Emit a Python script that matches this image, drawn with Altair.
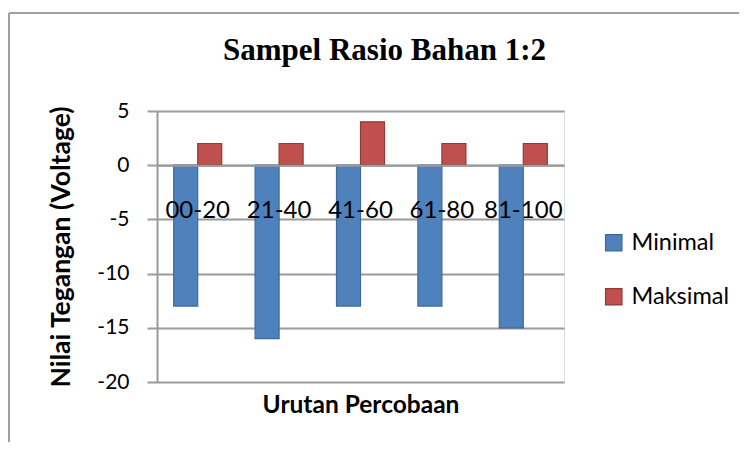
import altair as alt
import pandas as pd

categories = ["00-20", "21-40", "41-60", "61-80", "81-100"]
minimal = [-13, -16, -13, -13, -15]
maksimal = [2, 2, 4, 2, 2]
series_names = ["Minimal", "Maksimal"]
y_ticks = [-20, -15, -10, -5, 0, 5]

rows = []
for c, mn, mx in zip(categories, minimal, maksimal):
    rows.append({"cat": c, "series": "Minimal", "value": mn})
    rows.append({"cat": c, "series": "Maksimal", "value": mx})
df = pd.DataFrame(rows)

FONT = "Lato"
GRID = "#9a9a9a"
W, H = 407, 271

bars = alt.Chart(df).mark_bar(strokeWidth=1.2).encode(
    x=alt.X("cat:N", sort=categories,
            scale=alt.Scale(paddingInner=0.41, paddingOuter=0.205),
            axis=alt.Axis(title="Urutan Percobaan", orient="bottom", offset=-216.8,
                          labelAngle=0, labelFont=FONT, labelFontSize=24, labelColor="#000",
                          labelBaseline="middle", labelPadding=45, ticks=False, tickSize=0,
                          domain=True, domainColor=GRID, domainWidth=2,
                          titleFont=FONT, titleFontSize=24.5, titleFontWeight="bold", titleColor="#000",
                          titleX=203.5, titleY=240, titleBaseline="middle", zindex=1)),
    xOffset=alt.XOffset("series:N", sort=series_names,
                        scale=alt.Scale(domain=series_names, paddingInner=0, paddingOuter=0)),
    y=alt.Y("value:Q",
            scale=alt.Scale(domain=[-20, 5], nice=False, zero=True),
            axis=alt.Axis(title="Nilai Tegangan (Voltage)", values=y_ticks,
                          labelExpr="'' + datum.value",
                          grid=True, gridColor=GRID, gridWidth=2,
                          domain=True, domainColor=GRID, domainWidth=2,
                          ticks=True, tickSize=10, tickColor=GRID, tickWidth=2,
                          labelFont=FONT, labelFontSize=21, labelColor="#000", labelPadding=18,
                          titleFont=FONT, titleFontSize=26.5, titleFontWeight="bold", titleColor="#000",
                          titleAngle=-90, titleX=-96, titleY=135.5, titleBaseline="middle")),
    color=alt.Color("series:N", sort=series_names,
                    scale=alt.Scale(domain=series_names, range=["#4f81bd", "#c0504d"]),
                    legend=alt.Legend(title=None, orient="none", legendX=445, legendY=120,
                                      symbolType="square", symbolSize=270, symbolStrokeWidth=1.2,
                                      labelFont=FONT, labelFontSize=23.5, labelColor="#000",
                                      labelOffset=6, rowPadding=29)),
    stroke=alt.Stroke("series:N", sort=series_names,
                      scale=alt.Scale(domain=series_names, range=["#3d6a9e", "#8f3b39"]),
                      legend=None),
)

frame_v = alt.Chart(pd.DataFrame({"k": [0]})).mark_rule(color="#a0a0a0", strokeWidth=2).encode(
    x=alt.value(-148), y=alt.value(-98), y2=alt.value(H + 80))
frame_h = alt.Chart(pd.DataFrame({"k": [0]})).mark_rule(color="#a0a0a0", strokeWidth=2).encode(
    x=alt.value(-148), x2=alt.value(W + 200), y=alt.value(-98))

chart = alt.layer(bars, frame_v, frame_h).properties(
    width=W, height=H,
    title=alt.TitleParams("Sampel Rasio Bahan 1:2", font="Liberation Serif", fontSize=31,
                          fontWeight="bold", color="#000", anchor="middle", frame="group",
                          dx=24, offset=-55),
    autosize=alt.AutoSizeParams(type="none"),
    padding={"left": 149, "top": 103, "right": 175, "bottom": 60},
).configure_view(fill="#e8e8e8", stroke=None).configure(background="white")

chart.save("out.html", embed_options={"renderer": "svg", "actions": False})
